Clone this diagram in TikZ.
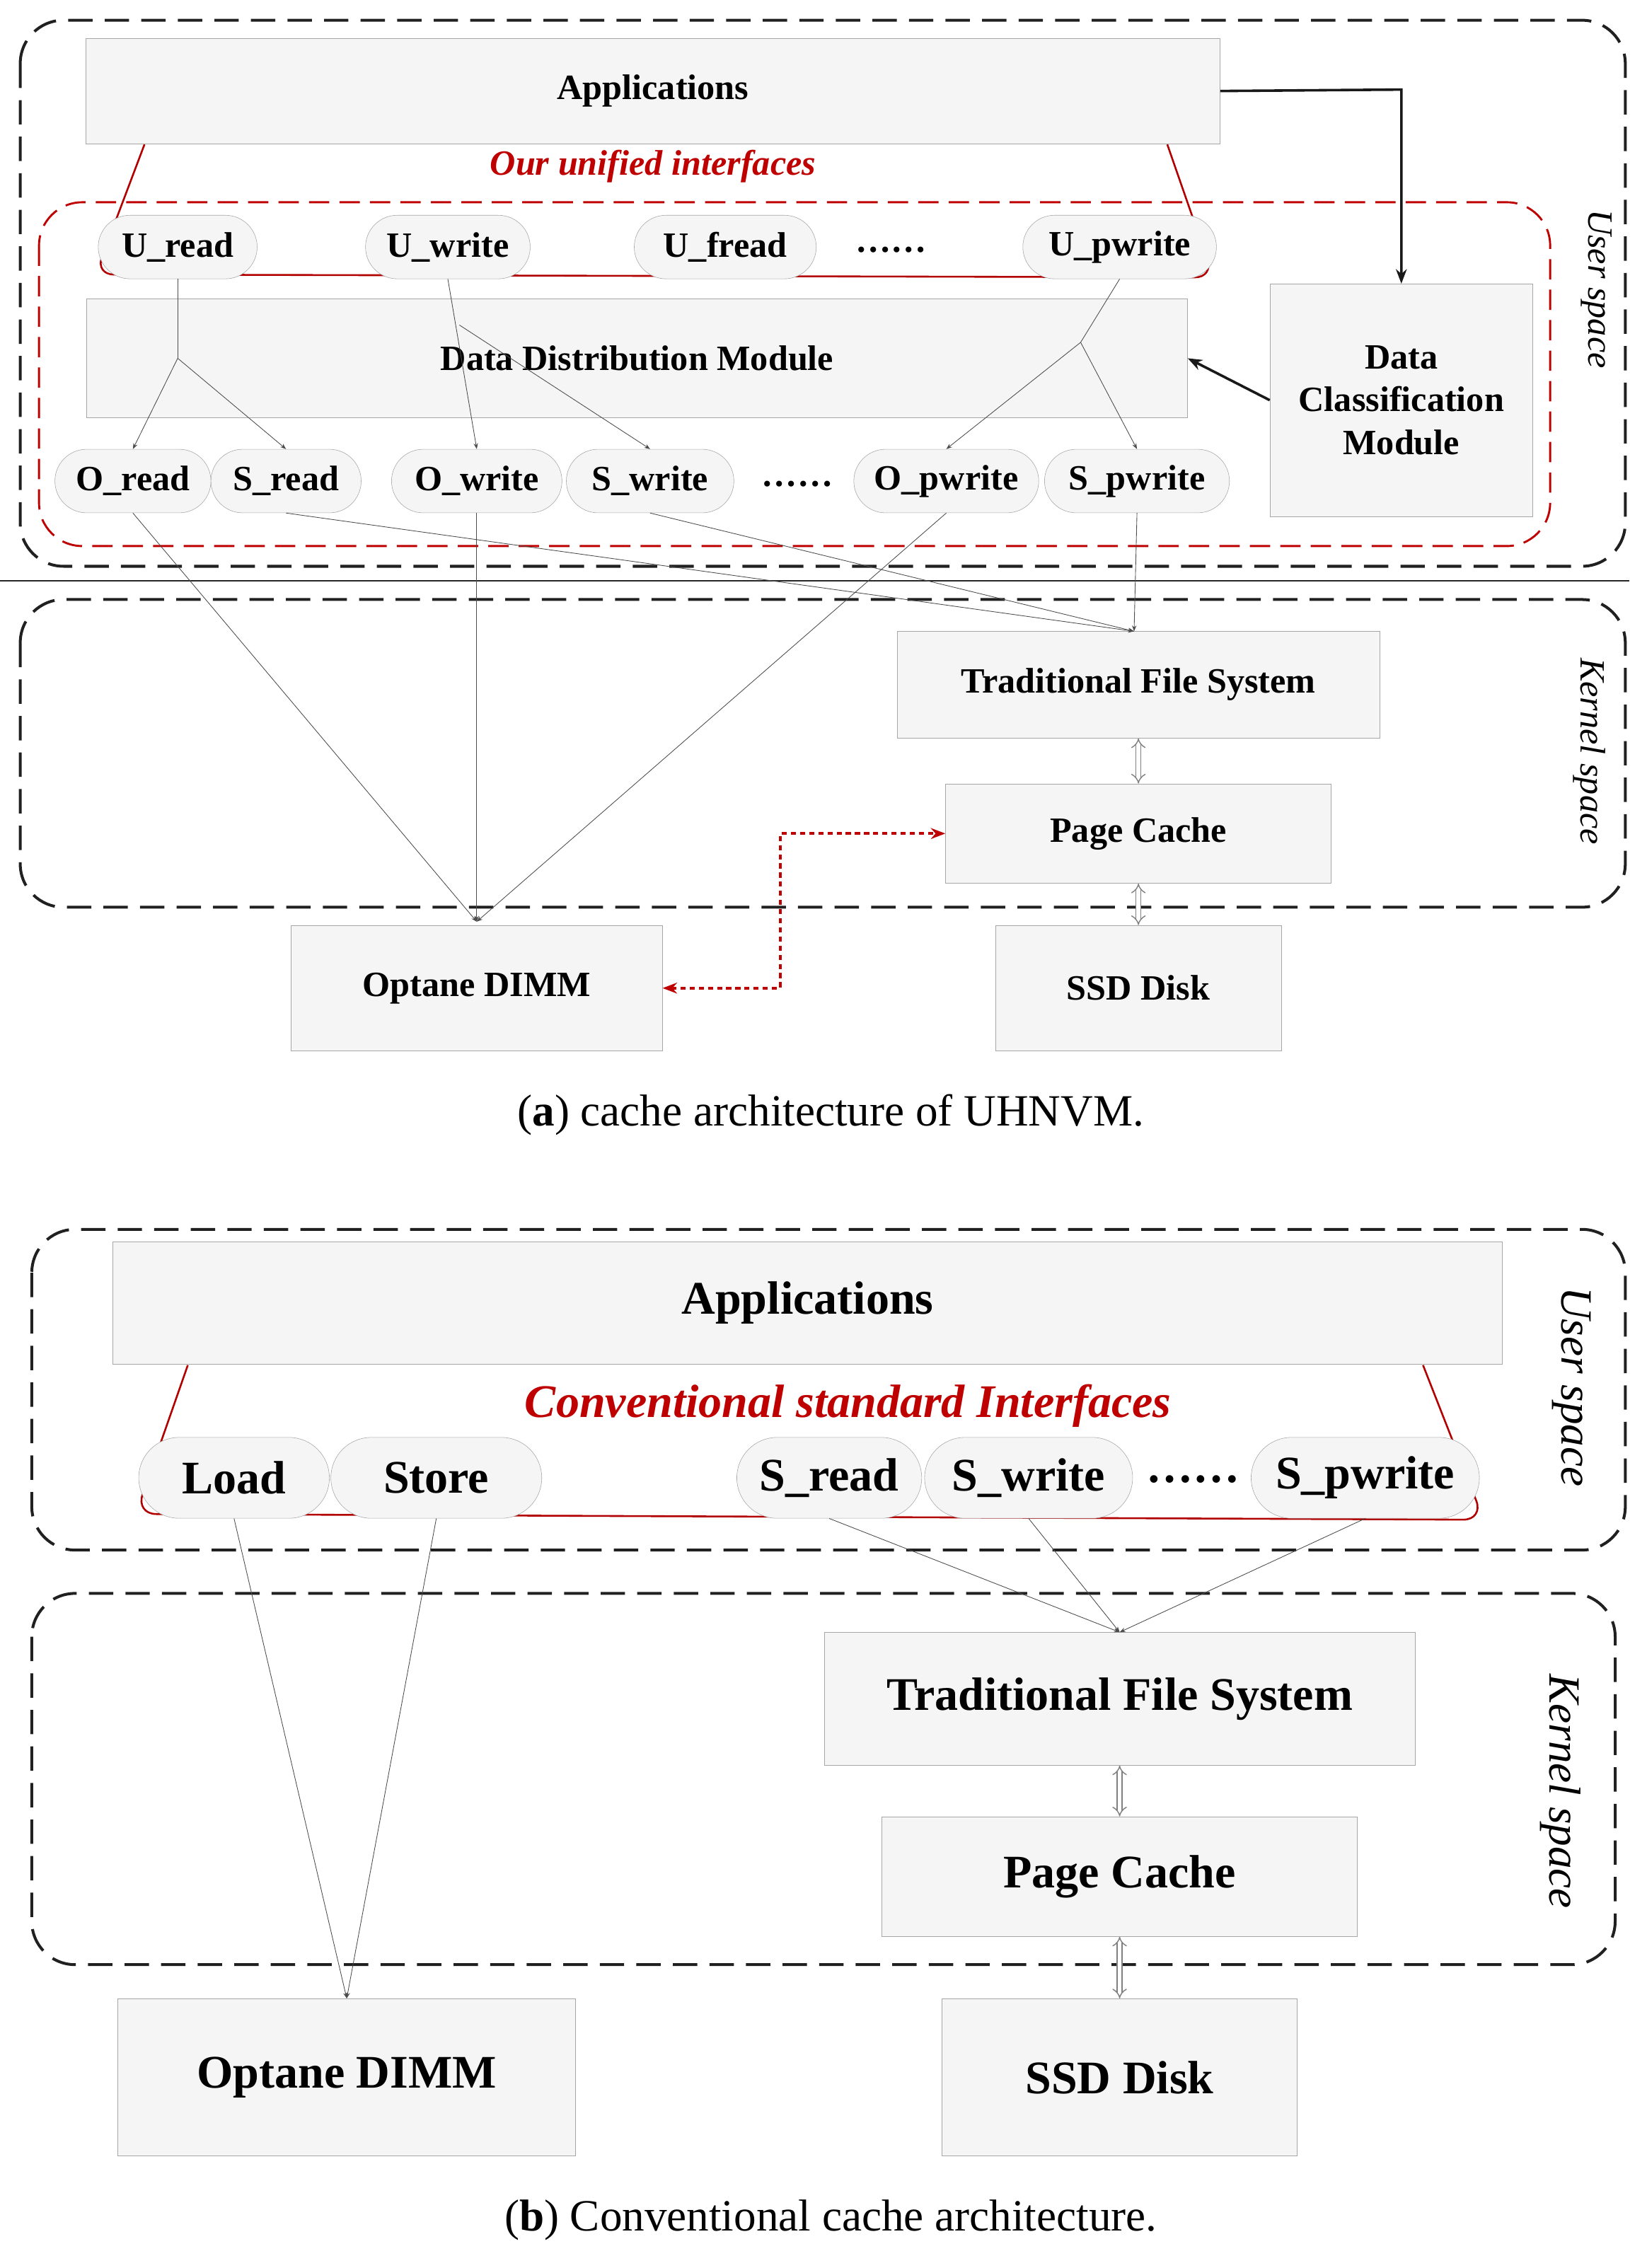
\documentclass[tikz,border=0pt]{standalone}
\usepackage{fontspec}
\setmainfont{Liberation Serif}
\usetikzlibrary{arrows.meta,positioning}

\begin{document}
\begin{tikzpicture}[x=0.05cm,y=-0.05cm,>=Stealth,
  box/.style={draw=gray!70,fill=gray!8,font=\fontsize{35}{42}\selectfont\bfseries,align=center,inner sep=0pt},
  bigbox/.style={box,font=\fontsize{46}{54}\selectfont\bfseries},
  pill/.style={draw=gray!70,fill=gray!8,rounded corners=1.1cm,minimum height=2.2cm,inner xsep=2pt,font=\fontsize{35}{42}\selectfont\bfseries},
  bigpill/.style={pill,minimum height=2.8cm,rounded corners=1.4cm,font=\fontsize{46}{54}\selectfont\bfseries},
  zone/.style={dash pattern=on 24pt off 12pt,line width=2.8pt,draw=gray!25!black,rounded corners=1.5cm},
  zonelabel/.style={font=\fontsize{35}{42}\selectfont\itshape,rotate=-90},
  thin/.style={->,gray!60!black,line width=0.6pt},
  hollow/.style={gray,double=white,double distance=4pt,line width=1pt,{Implies}-{Implies}},
  redline/.style={red!70!black,line width=1.8pt}]

\useasboundingbox (0,0) rectangle (1140,1570);

% ---- (a) ----
\draw[zone] (14,14) rectangle (1125,392);
\node[zonelabel] at (1105,200) {User space};
\draw[line width=1.5pt,gray!30!black] (0,402) -- (1128,402);
\draw[zone] (14,415) rectangle (1125,628);
\node[zonelabel] at (1100,520) {Kernel space};

\node[box,minimum width=39.25cm,minimum height=3.65cm] (apps) at (452,63) {Applications};
\draw[redline,rounded corners=18pt] (100,100) -- (66,190) -- (840,192) -- (808,100);
\node[text=red!75!black,font=\fontsize{35}{42}\selectfont\bfseries\itshape] at (452,115) {Our unified interfaces};
\draw[red!75!black,line width=2pt,dash pattern=on 20pt off 10pt,rounded corners=1.5cm] (27,140) rectangle (1073,378);

\node[pill,minimum width=5.5cm] (uread) at (123,171) {U\_read};
\node[pill,minimum width=5.7cm] (uwrite) at (310,171) {U\_write};
\node[pill,minimum width=6.3cm] (ufread) at (502,171) {U\_fread};
\node[font=\fontsize{35}{42}\selectfont\bfseries] at (617,173) {……};
\node[pill,minimum width=6.7cm] (upwrite) at (775,171) {U\_pwrite};

\node[box,minimum width=38.1cm,minimum height=4.1cm] (ddm) at (441,248) {Data Distribution Module};
\node[box,minimum width=9.1cm,minimum height=8.05cm] (dcm) at (970,277) {Data\\Classification\\Module};

\node[pill,minimum width=5.4cm] (oread) at (92,333) {O\_read};
\node[pill,minimum width=5.2cm] (sread) at (198,333) {S\_read};
\node[pill,minimum width=5.9cm] (owrite) at (330,333) {O\_write};
\node[pill,minimum width=5.8cm] (swrite) at (450,333) {S\_write};
\node[font=\fontsize{35}{42}\selectfont\bfseries] at (552,335) {……};
\node[pill,minimum width=6.4cm] (opwrite) at (655,333) {O\_pwrite};
\node[pill,minimum width=6.4cm] (spwrite) at (787,333) {S\_pwrite};

\node[box,minimum width=16.7cm,minimum height=3.7cm] (tfs) at (788,474) {Traditional File System};
\node[box,minimum width=13.35cm,minimum height=3.45cm] (pc) at (788,577) {Page Cache};
\node[box,minimum width=12.85cm,minimum height=4.35cm] (optane) at (330,684) {Optane DIMM};
\node[box,minimum width=9.9cm,minimum height=4.35cm] (ssd) at (788,684) {SSD Disk};

\coordinate (tfsin) at (785,437);
\coordinate (optin) at (330,638);
\coordinate (bru) at (123,248);
\coordinate (brw) at (318,225);
\coordinate (brp) at (748,237);

\draw[->,line width=2.5pt,gray!20!black] (apps.east) -- (970,62) -- (dcm.north);
\draw[->,line width=2.5pt,gray!20!black] (dcm.west) -- (ddm.east);

\draw[gray!60!black,line width=0.6pt] (uread.south) -- (bru);
\draw[thin] (bru) -- (oread.north);
\draw[thin] (bru) -- (sread.north);
\draw[thin] (uwrite.south) -- (owrite.north);
\draw[thin] (brw) -- (swrite.north);
\draw[gray!60!black,line width=0.6pt] (upwrite.south) -- (brp);
\draw[thin] (brp) -- (opwrite.north);
\draw[thin] (brp) -- (spwrite.north);

\draw[thin] (sread.south) -- (tfsin);
\draw[thin] (swrite.south) -- (tfsin);
\draw[thin] (spwrite.south) -- (tfsin);
\draw[thin] (oread.south) -- (optin);
\draw[thin] (owrite.south) -- (optin);
\draw[thin] (opwrite.south) -- (optin);

\draw[hollow] (tfs.south) -- (pc.north);
\draw[hollow] (pc.south) -- (ssd.north);
\draw[red!75!black,line width=2.5pt,dash pattern=on 5pt off 4pt,<->] (optane.east) -- (540,684) -- (540,577) -- (pc.west);

\node[font=\fontsize{44}{52}\selectfont] at (575,772) {(\textbf{a}) cache architecture of UHNVM.};

% ---- (b) ----
\draw[zone] (22,851) rectangle (1125,1073);
\node[zonelabel,font=\fontsize{44}{52}\selectfont\itshape] at (1088,960) {User space};
\draw[zone] (22,1103) rectangle (1118,1360);
\node[zonelabel,font=\fontsize{44}{52}\selectfont\itshape] at (1080,1240) {Kernel space};

\node[bigbox,minimum width=48.1cm,minimum height=4.25cm] (apps2) at (559,902) {Applications};
\draw[redline,rounded corners=20pt] (130,945) -- (94,1048) -- (1027,1052) -- (985,945);
\node[text=red!75!black,font=\fontsize{46}{54}\selectfont\bfseries\itshape] at (587,973) {Conventional standard Interfaces};

\node[bigpill,minimum width=6.6cm] (load) at (162,1023) {Load};
\node[bigpill,minimum width=7.3cm] (store) at (302,1023) {Store};
\node[bigpill,minimum width=6.4cm] (sread2) at (574,1023) {S\_read};
\node[bigpill,minimum width=7.2cm] (swrite2) at (712,1023) {S\_write};
\node[font=\fontsize{46}{54}\selectfont\bfseries] at (826,1024) {……};
\node[bigpill,minimum width=7.9cm] (spwrite2) at (945,1023) {S\_pwrite};

\node[bigbox,minimum width=20.45cm,minimum height=4.6cm] (tfs2) at (775,1176) {Traditional File System};
\node[bigbox,minimum width=16.45cm,minimum height=4.15cm] (pc2) at (775,1299) {Page Cache};
\node[bigbox,minimum width=15.85cm,minimum height=5.45cm] (optane2) at (240,1438) {Optane DIMM};
\node[bigbox,minimum width=12.3cm,minimum height=5.45cm] (ssd2) at (775,1438) {SSD Disk};

\draw[thin] (load.south) -- (optane2.north);
\draw[thin] (store.south) -- (optane2.north);
\draw[thin] (sread2.south) -- (tfs2.north);
\draw[thin] (swrite2.south) -- (tfs2.north);
\draw[thin] (spwrite2.south) -- (tfs2.north);
\draw[hollow] (tfs2.south) -- (pc2.north);
\draw[hollow] (pc2.south) -- (ssd2.north);

\node[font=\fontsize{44}{52}\selectfont] at (575,1537) {(\textbf{b}) Conventional cache architecture.};
\end{tikzpicture}
\end{document}
